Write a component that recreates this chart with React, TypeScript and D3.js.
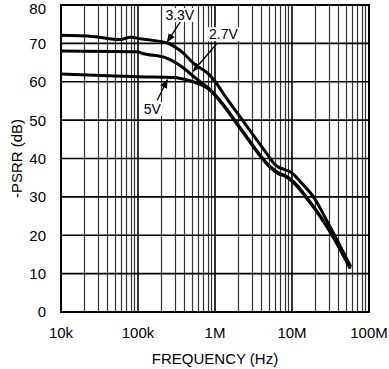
import React, { useRef, useEffect } from "react";
import * as d3 from "d3";

const width = 389;
const height = 369;
const margin = { top: 5, left: 61, bottom: 57, right: 20 };
const iwidth = width - margin.left - margin.right;
const iheight = height - margin.top - margin.bottom;

const xTicks = [1e4, 1e5, 1e6, 1e7, 1e8];
const xTickLabels = ["10k", "100k", "1M", "10M", "100M"];
const yTicks = [0, 10, 20, 30, 40, 50, 60, 70, 80];

// frequency (Hz), -PSRR (dB)
const freq33 = [1e4, 2.6e4, 5.9e4, 8e4, 1.07e5, 2.4e5, 3.5e5, 5.56e5, 8.28e5, 1.01e6, 1.365e6, 2.04e6, 3.04e6, 4.53e6, 6.11e6, 8.26e6, 9.6e6, 1.29e7, 1.85e7, 3.18e7, 5.8e7];
const psrr33 = [72.1, 71.8, 71.0, 71.6, 71.2, 70.1, 68.2, 64.4, 62.0, 60.0, 56.1, 51.3, 46.5, 41.7, 38.3, 37.0, 36.5, 33.9, 30.3, 21.9, 11.8];

const freq27 = [1e4, 1e5, 1.1e5, 2.4e5, 3.9e5, 5.56e5, 8.28e5, 1.117e6, 1.67e6, 2.49e6, 3.71e6, 5.0e6, 6.75e6, 8.3e6, 1.05e7, 1.64e7, 3.18e7, 5.7e7];
const psrr27 = [68.0, 67.8, 67.5, 66.1, 63.6, 61.0, 58.3, 55.6, 50.9, 46.1, 41.3, 38.2, 36.2, 35.5, 33.9, 29.2, 20.8, 11.5];

const freq5 = [1e4, 5e4, 1e5, 2.9e5, 4.8e5, 5.56e5, 7.1e5, 8.28e5, 1.117e6, 1.67e6, 2.49e6, 3.71e6, 5.0e6, 6.75e6, 8.3e6, 1.05e7, 1.64e7, 3.18e7, 5.7e7];
const psrr5 = [62.0, 61.5, 61.3, 61.1, 60.2, 59.8, 58.9, 58.1, 55.4, 50.7, 45.9, 41.1, 38.0, 36.0, 35.3, 33.7, 29.0, 20.6, 11.3];

const series = [
  { name: "3.3V", f: freq33, v: psrr33 },
  { name: "2.7V", f: freq27, v: psrr27 },
  { name: "5V", f: freq5, v: psrr5 },
];

// label text, label centre, arrow start, arrow tip — all as (freq, dB)
const labels = [
  { text: "3.3V", at: [3.49e5, 77.4], from: [3.54e5, 75.6], tip: [2.4e5, 70.4] },
  { text: "2.7V", at: [1.286e6, 72.4], from: [1.074e6, 70.1], tip: [5.23e5, 62.8] },
  { text: "5V", at: [1.53e5, 52.9], from: [1.78e5, 55.2], tip: [2.4e5, 60.5] },
];

const font = "Liberation Sans, Arial, sans-serif";

const App = () => {
  const ref = useRef<SVGSVGElement>(null);

  useEffect(() => {
    const svg = d3.select(ref.current);
    svg.selectAll("*").remove();
    svg.attr("width", width).attr("height", height);

    const x = d3.scaleLog().domain([1e4, 1e8]).range([0, iwidth]);
    const y = d3.scaleLinear().domain([0, 80]).range([iheight, 0]);

    const g = svg
      .append("g")
      .attr("transform", `translate(${margin.left},${margin.top})`);

    // vertical grid
    const minor: number[] = [];
    for (let d = 1e4; d < 1e8; d *= 10) {
      for (let k = 2; k <= 9; k++) minor.push(k * d);
    }
    g.selectAll(".vminor")
      .data(minor)
      .enter()
      .append("line")
      .attr("x1", (d) => Math.round(x(d)) + 0.5)
      .attr("x2", (d) => Math.round(x(d)) + 0.5)
      .attr("y1", 0)
      .attr("y2", iheight)
      .attr("stroke", "#333")
      .attr("stroke-width", 1.2);

    g.selectAll(".hgrid")
      .data(yTicks)
      .enter()
      .append("line")
      .attr("x1", 0)
      .attr("x2", iwidth)
      .attr("y1", (d) => y(d))
      .attr("y2", (d) => y(d))
      .attr("stroke", "#000")
      .attr("stroke-width", 1.6);

    g.selectAll(".vmajor")
      .data(xTicks)
      .enter()
      .append("line")
      .attr("x1", (d) => x(d))
      .attr("x2", (d) => x(d))
      .attr("y1", 0)
      .attr("y2", iheight)
      .attr("stroke", "#000")
      .attr("stroke-width", 1.6);

    g.append("rect")
      .attr("width", iwidth)
      .attr("height", iheight)
      .attr("fill", "none")
      .attr("stroke", "#000")
      .attr("stroke-width", 2);

    // tick labels
    g.selectAll(".ylab")
      .data(yTicks)
      .enter()
      .append("text")
      .attr("x", -15)
      .attr("y", (d) => Math.max(y(d), 3.5))
      .attr("dy", "0.36em")
      .attr("text-anchor", "end")
      .attr("font-family", font)
      .attr("font-size", 15)
      .text((d) => d);

    g.selectAll(".xlab")
      .data(xTicks)
      .enter()
      .append("text")
      .attr("x", (d) => x(d))
      .attr("y", iheight + 26)
      .attr("text-anchor", "middle")
      .attr("font-family", font)
      .attr("font-size", 15)
      .text((d, i) => xTickLabels[i]);

    svg
      .append("text")
      .attr("x", margin.left + iwidth / 2)
      .attr("y", 364)
      .attr("text-anchor", "middle")
      .attr("font-family", font)
      .attr("font-size", 15)
      .text("FREQUENCY (Hz)");

    svg
      .append("text")
      .attr("transform", `translate(22,${margin.top + iheight / 2}) rotate(-90)`)
      .attr("text-anchor", "middle")
      .attr("font-family", font)
      .attr("font-size", 15)
      .text("-PSRR (dB)");

    // curves
    const line = d3
      .line<[number, number]>()
      .x((d) => x(d[0]))
      .y((d) => y(d[1]))
      .curve(d3.curveMonotoneX);

    g.selectAll(".curve")
      .data(series)
      .enter()
      .append("path")
      .attr("d", (s) => line(s.f.map((f, i) => [f, s.v[i]] as [number, number])))
      .attr("fill", "none")
      .attr("stroke", "#000")
      .attr("stroke-width", 3)
      .attr("stroke-linejoin", "round");

    // labels with arrows
    svg
      .append("defs")
      .append("marker")
      .attr("id", "ah")
      .attr("viewBox", "0 0 10 10")
      .attr("refX", 9)
      .attr("refY", 5)
      .attr("markerWidth", 7)
      .attr("markerHeight", 7)
      .attr("orient", "auto")
      .append("path")
      .attr("d", "M0,1 L10,5 L0,9 Z")
      .attr("fill", "#000");

    labels.forEach((l) => {
      g.append("line")
        .attr("x1", x(l.from[0]))
        .attr("y1", y(l.from[1]))
        .attr("x2", x(l.tip[0]))
        .attr("y2", y(l.tip[1]))
        .attr("stroke", "#000")
        .attr("stroke-width", 1.3)
        .attr("marker-end", "url(#ah)");
      const t = g
        .append("text")
        .attr("x", x(l.at[0]))
        .attr("y", y(l.at[1]))
        .attr("dy", "0.36em")
        .attr("text-anchor", "middle")
        .attr("font-family", font)
        .attr("font-size", 14)
        .text(l.text);
      const bb = (t.node() as SVGTextElement).getBBox();
      g.insert("rect", () => t.node() as SVGTextElement)
        .attr("x", bb.x - 1)
        .attr("y", bb.y + 1)
        .attr("width", bb.width + 2)
        .attr("height", bb.height - 2)
        .attr("fill", "#fff");
    });
  }, []);

  return (
    <div style={{ position: "absolute", left: 0, top: 0 }}>
      <svg ref={ref}></svg>
    </div>
  );
};

export default App;
